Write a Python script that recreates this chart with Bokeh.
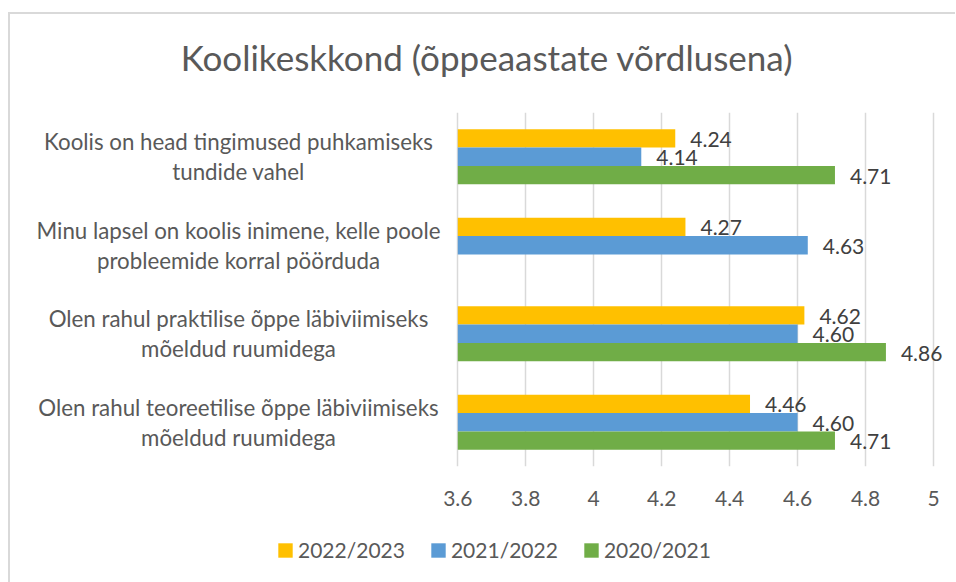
from bokeh.plotting import figure
from bokeh.layouts import column
from bokeh.models import (ColumnDataSource, FactorRange, Range1d, FixedTicker, Legend, LegendItem,
                          Label)
from bokeh.transform import dodge
from bokeh.core.properties import value
from bokeh.embed import file_html
from bokeh.resources import INLINE

# ---- data ----
categories = [
    "Koolis on head tingimused puhkamiseks\ntundide vahel",
    "Minu lapsel on koolis inimene, kelle poole\nprobleemide korral pöörduda",
    "Olen rahul praktilise õppe läbiviimiseks\nmõeldud ruumidega",
    "Olen rahul teoreetilise õppe läbiviimiseks\nmõeldud ruumidega",
]
series_names = ["2022/2023", "2021/2022", "2020/2021"]
values_2022_2023 = [4.24, 4.27, 4.62, 4.46]
values_2021_2022 = [4.14, 4.63, 4.60, 4.60]
values_2020_2021 = [4.71, None, 4.86, 4.71]
x_ticks = [3.6, 3.8, 4.0, 4.2, 4.4, 4.6, 4.8, 5.0]
x_tick_labels = ["3.6", "3.8", "4", "4.2", "4.4", "4.6", "4.8", "5"]
title_text = "Koolikeskkond (õppeaastate võrdlusena)"

# ---- styles / layout ----
colors = ["#FFC000", "#5B9BD5", "#70AD47"]
FONT = "Lato"
TEXT_GRAY = "#595959"
LABEL_GRAY = "#404040"
bar_h = 0.207
offsets = [bar_h, 0.0, -bar_h]
axis_min = 3.6
x_view_start = 2.3425   # leaves room left of the value axis for category texts
x_view_end = 5.0618
cat_label_x = 2.9546    # horizontal centre of the category texts (data units)
W = 945


def bare(fig):
    fig.outline_line_color = None
    fig.xgrid.grid_line_color = None
    fig.ygrid.grid_line_color = None
    fig.background_fill_color = "white"
    fig.border_fill_color = "white"


# ---- title strip ----
head = figure(width=W, height=85, x_range=Range1d(0, 1), y_range=Range1d(0, 1),
              x_axis_location=None, y_axis_location=None,
              output_backend="svg", toolbar_location=None, min_border=0)
bare(head)
head.add_layout(Label(x=456.5, y=42.5, x_units="screen", y_units="screen", text=title_text,
                      text_align="center", text_baseline="middle", text_font=FONT,
                      text_font_size="35px", text_color=TEXT_GRAY))

# ---- chart ----
p = figure(
    width=W, height=415,
    y_range=FactorRange(factors=list(reversed(categories)), range_padding=0),
    x_range=Range1d(x_view_start, x_view_end),
    y_axis_location=None,
    output_backend="svg", toolbar_location=None,
    min_border_left=20, min_border_right=1, min_border_top=13, min_border_bottom=48,
)
bare(p)

all_values = [values_2022_2023, values_2021_2022, values_2020_2021]
sources = []
for name, vals, col, off in zip(series_names, all_values, colors, offsets):
    cats = [c for c, v in zip(categories, vals) if v is not None]
    vs = [v for v in vals if v is not None]
    src = ColumnDataSource(dict(cat=cats, val=vs, lbl=[f"{v:.2f}" for v in vs]))
    sources.append(src)
    p.hbar(y=dodge("cat", off, range=p.y_range), left=axis_min, right="val", height=bar_h,
           source=src, fill_color=col, line_color=None)
    p.text(x="val", y=dodge("cat", off, range=p.y_range), text="lbl", source=src,
           x_offset=15, y_offset=1, text_baseline="middle", text_align="left",
           text_font=value(FONT), text_font_size="21px", text_color=LABEL_GRAY)

# category texts (centred lines, like the original)
cat_src = ColumnDataSource(dict(cat=categories, x=[cat_label_x] * len(categories)))
p.text(x="x", y="cat", text="cat", source=cat_src, text_align="center", text_baseline="middle",
       text_font=value(FONT), text_font_size="22.3px", text_color=TEXT_GRAY,
       text_line_height=1.12)

# value axis
p.xaxis.ticker = FixedTicker(ticks=x_ticks)
p.xaxis.major_label_overrides = {t: l for t, l in zip(x_ticks, x_tick_labels)}
p.xaxis.axis_line_color = None
p.xaxis.major_tick_line_color = None
p.xaxis.minor_tick_line_color = None
p.xaxis.major_label_text_font = FONT
p.xaxis.major_label_text_font_size = "21px"
p.xaxis.major_label_text_color = TEXT_GRAY
p.xaxis.major_label_standoff = 18
p.xgrid.grid_line_color = "#D9D9D9"
p.xgrid.grid_line_width = 1.5

# ---- legend strip ----
lg = figure(width=W, height=68, x_range=Range1d(0, 1),
            y_range=FactorRange(factors=list(reversed(categories))),
            x_axis_location=None, y_axis_location=None,
            output_backend="svg", toolbar_location=None, min_border=0)
bare(lg)
legend_renderers = []
for src, col in zip(sources, colors):
    legend_renderers.append(lg.hbar(y="cat", left=axis_min, right="val", height=bar_h, source=src,
                                    fill_color=col, line_color=None, visible=False))
legend = Legend(
    items=[LegendItem(label=n, renderers=[r]) for n, r in zip(series_names, legend_renderers)],
    orientation="horizontal", location=(246, 20),
    glyph_width=18, glyph_height=18, label_standoff=4, spacing=24,
    padding=0, margin=0, border_line_color=None, background_fill_alpha=0,
    inactive_fill_alpha=0,
    label_text_font=FONT, label_text_font_size="21px", label_text_color=TEXT_GRAY,
)
lg.add_layout(legend, "center")

layout = column(head, p, lg, spacing=0)
layout.styles = {"margin-left": "8px", "margin-top": "12px",
                 "border-top": "2px solid #D9D9D9", "border-left": "2px solid #D9D9D9"}

open("out.html", "w").write(file_html(layout, INLINE))
